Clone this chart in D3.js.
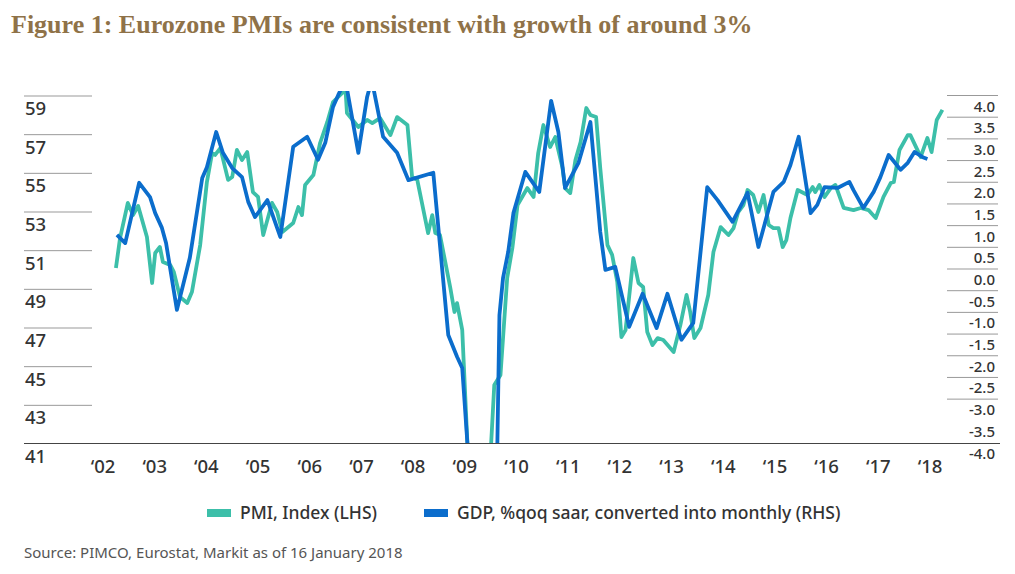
<!DOCTYPE html>
<html><head><meta charset="utf-8">
<script src="https://cdn.jsdelivr.net/npm/d3@7"></script>
<style>body{margin:0;background:#fff}svg{display:block}</style>
</head><body>
<script>
const pmiDates=[2002.25,2002.33,2002.48,2002.58,2002.68,2002.85,2002.95,2003.01,2003.10,2003.16,2003.30,2003.37,2003.49,2003.63,2003.72,2003.88,2004.01,2004.11,2004.17,2004.27,2004.42,2004.50,2004.59,2004.69,2004.79,2004.90,2005.00,2005.10,2005.27,2005.37,2005.47,2005.68,2005.78,2005.85,2005.91,2006.07,2006.20,2006.34,2006.45,2006.63,2006.69,2006.72,2006.94,2007.11,2007.21,2007.36,2007.56,2007.69,2007.89,2007.98,2008.08,2008.29,2008.37,2008.43,2008.52,2008.72,2008.80,2008.85,2008.95,2009.05,2009.26,2009.51,2009.57,2009.69,2009.82,2009.92,2010.02,2010.21,2010.33,2010.42,2010.52,2010.65,2010.75,2010.89,2010.94,2011.04,2011.14,2011.24,2011.35,2011.43,2011.54,2011.62,2011.76,2011.85,2011.95,2012.03,2012.11,2012.26,2012.36,2012.45,2012.53,2012.63,2012.73,2012.84,2013.04,2013.17,2013.29,2013.36,2013.44,2013.56,2013.71,2013.81,2013.95,2014.10,2014.20,2014.29,2014.39,2014.47,2014.58,2014.68,2014.78,2014.88,2014.97,2015.07,2015.15,2015.22,2015.30,2015.44,2015.63,2015.73,2015.78,2015.86,2015.96,2016.08,2016.17,2016.33,2016.52,2016.66,2016.81,2016.95,2017.10,2017.24,2017.30,2017.41,2017.57,2017.62,2017.82,2017.95,2018.03,2018.13,2018.24];
const pmiValues=[50.72,52.27,54.09,53.46,53.93,52.33,49.95,51.5,51.81,51.03,50.88,50.52,49.22,48.91,49.48,51.91,55.17,56.67,56.57,56.93,55.28,55.43,56.83,56.31,56.72,54.65,54.40,52.43,54.09,53.62,52.59,53.05,53.88,53.46,55.02,55.53,57.19,58.28,59.31,59.78,60.03,58.74,58.02,58.38,58.22,58.48,57.60,58.53,58.12,55.43,55.28,52.53,53.46,52.53,52.43,49.69,48.45,48.91,47.52,41.67,34,41.67,44.67,45.19,50.21,51.76,53.98,54.86,54.40,56.67,58.12,56.98,57.50,55.90,54.86,54.60,56.31,57.24,59.00,58.64,58.53,55.90,51.91,51.40,50.00,47.15,47.52,51.24,49.95,49.74,47.41,46.74,47.10,47.00,46.38,47.77,49.33,48.45,47.10,47.62,49.33,51.55,52.84,52.43,52.79,53.62,53.98,54.76,54.50,53.62,54.50,52.95,52.79,52.79,51.81,52.17,53.31,54.76,54.50,54.91,54.65,55.02,54.40,54.86,55.02,53.83,53.72,53.83,53.72,53.31,54.40,55.12,55.17,56.83,57.60,57.60,56.47,57.45,56.72,58.38,58.90];
const gdpDates=[2002.27,2002.43,2002.70,2002.91,2003.01,2003.14,2003.22,2003.43,2003.68,2003.92,2004.01,2004.19,2004.32,2004.50,2004.69,2004.81,2004.94,2005.18,2005.43,2005.68,2005.95,2006.16,2006.30,2006.45,2006.55,2006.69,2006.94,2007.11,2007.20,2007.42,2007.69,2007.91,2008.39,2008.68,2008.85,2008.95,2009.05,2009.30,2009.63,2009.67,2009.74,2009.84,2009.94,2010.17,2010.44,2010.67,2010.81,2010.94,2011.20,2011.43,2011.62,2011.72,2011.91,2012.18,2012.44,2012.71,2012.92,2013.19,2013.42,2013.69,2013.89,2014.18,2014.47,2014.68,2014.97,2015.17,2015.30,2015.46,2015.69,2015.82,2015.96,2016.21,2016.44,2016.52,2016.71,2016.91,2017.04,2017.20,2017.43,2017.57,2017.70,2017.86,2017.95];
const gdpValues=[1.03,0.84,2.23,1.90,1.53,1.19,0.84,-0.70,0.50,2.34,2.59,3.40,2.92,2.57,2.36,1.79,1.44,1.83,0.98,3.06,3.29,2.76,3.15,3.98,4.25,4.6,2.92,4.21,4.6,3.29,2.92,2.29,2.46,-1.28,-1.78,-2.04,-3.77,-10,-3.77,-0.82,0.04,0.64,1.53,2.48,2.02,4.12,3.40,2.11,2.69,3.63,1.10,0.22,0.29,-1.09,-0.33,-1.12,-0.33,-1.39,-1.00,2.13,1.83,1.33,2.00,0.75,2.02,2.25,2.64,3.29,1.53,1.72,2.13,2.11,2.25,2.06,1.65,2.02,2.36,2.87,2.53,2.69,2.94,2.82,2.78];
const yearTicks=[2002,2003,2004,2005,2006,2007,2008,2009,2010,2011,2012,2013,2014,2015,2016,2017,2018];
const leftTicks=[59,57,55,53,51,49,47,45,43,41];
const rightTicks=[4.0,3.5,3.0,2.5,2.0,1.5,1.0,0.5,0.0,-0.5,-1.0,-1.5,-2.0,-2.5,-3.0,-3.5,-4.0];
const seriesNames=["PMI, Index (LHS)","GDP, %qoq saar, converted into monthly (RHS)"];

const W=1015,H=574;
const svg=d3.select("body").append("svg").attr("width",W).attr("height",H);
const font="'Noto Sans', sans-serif";
const x=d3.scaleLinear().domain([2002,2018]).range([103,930]);
const yL=d3.scaleLinear().domain([41,59]).range([456,108]);
const yR=d3.scaleLinear().domain([-4,4]).range([453,106]);
const txt="#333";

svg.append("text").attr("x",11).attr("y",33).attr("font-family","'Liberation Serif',serif").attr("font-weight","bold")
  .attr("font-size",26).attr("fill","#8f7248").text("Figure 1: Eurozone PMIs are consistent with growth of around 3%");

const gl=svg.append("g");
leftTicks.forEach(v=>{
  if(v>41) gl.append("line").attr("x1",24).attr("x2",92).attr("y1",yL(v)-12).attr("y2",yL(v)-12).attr("stroke","#999").attr("stroke-width",1);
  gl.append("text").attr("x",25).attr("y",yL(v)+7).attr("font-family",font).attr("font-weight",500).attr("font-size",18.5).attr("fill",txt).text(v);
});
const gr=svg.append("g");
rightTicks.forEach((v,i)=>{
  if(i<rightTicks.length-2) gr.append("line").attr("x1",947).attr("x2",998).attr("y1",yR(v)-10.5).attr("y2",yR(v)-10.5).attr("stroke","#999");
  gr.append("text").attr("x",995).attr("y",yR(v)+5.5).attr("text-anchor","end").attr("font-family",font).attr("font-weight",500).attr("font-size",15).attr("fill",txt).text(v.toFixed(1));
});
svg.append("g").selectAll("text").data(yearTicks).join("text")
  .attr("x",d=>x(d)).attr("y",473).attr("text-anchor","middle").attr("font-family",font).attr("font-weight",500).attr("font-size",18.5).attr("fill",txt)
  .text(d=>"\u2018"+String(d).slice(2));

svg.append("defs").append("clipPath").attr("id","c").append("rect").attr("x",0).attr("y",91).attr("width",W).attr("height",352);
const pmi=pmiDates.map((d,i)=>[d,pmiValues[i]]);
const gdp=gdpDates.map((d,i)=>[d,gdpValues[i]]);
const g=svg.append("g").attr("clip-path","url(#c)");
g.append("path").datum(pmi).attr("fill","none").attr("stroke","#3cbfa9").attr("stroke-width",3.8).attr("stroke-linejoin","round")
  .attr("d",d3.line().x(d=>x(d[0])).y(d=>yL(d[1])));
g.append("path").datum(gdp).attr("fill","none").attr("stroke","#0b6dcc").attr("stroke-width",3.8).attr("stroke-linejoin","round")
  .attr("d",d3.line().x(d=>x(d[0])).y(d=>yR(d[1])));
svg.append("line").attr("x1",24).attr("x2",1000).attr("y1",443.5).attr("y2",443.5).attr("stroke","#444").attr("stroke-width",1.2);

const lg=[[207,"#3cbfa9"],[424,"#0b6dcc"]];
lg.forEach((l,i)=>{
  svg.append("rect").attr("x",l[0]).attr("y",509).attr("width",24).attr("height",8).attr("fill",l[1]);
  svg.append("text").attr("x",l[0]+33).attr("y",519).attr("font-family",font).attr("font-weight",500).attr("font-size",17.5).attr("fill",txt).text(seriesNames[i]);
});
svg.append("text").attr("x",24).attr("y",558).attr("font-family",font).attr("font-size",15).attr("fill","#555").text("Source: PIMCO, Eurostat, Markit as of 16 January 2018");
</script>
</body></html>
